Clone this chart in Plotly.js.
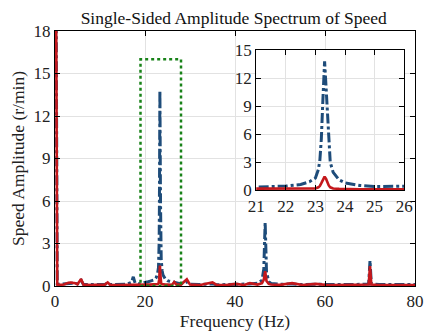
<!DOCTYPE html>
<html>
<head>
<meta charset="utf-8">
<script src="https://cdn.plot.ly/plotly-3.0.1.min.js"></script>
<style>html,body{margin:0;padding:0;background:#fff;}#chart{width:425px;height:333px;}</style>
</head>
<body>
<div id="chart"></div>
<script>
// Frequency axis (Hz)
const freq = [0, 0.5, 1, 2, 3, 3.5, 4, 4.5, 5, 5.8, 6.3, 7, 8, 9, 10, 11, 11.7, 12.3, 13, 14, 15, 16, 17, 17.4, 17.8, 18.5, 19, 20, 20.7, 21, 21.5, 22, 22.5, 22.8, 23, 23.1, 23.15, 23.2, 23.25, 23.31, 23.36, 23.4, 23.45, 23.5, 23.6, 23.8, 24, 24.5, 25, 25.5, 26, 26.5, 27, 28, 29.3, 30, 32, 35, 36, 38, 40.2, 42, 43.3, 45, 46, 46.4, 46.7, 47, 47.5, 48, 50, 52.7, 55, 58, 60, 62, 64, 66, 68, 69.7, 70, 70.3, 72, 75, 78, 80];
// Series 1 (blue, dash-dot)
const ampBlue = [40, 0.15, 0.12, 0.15, 0.2, 0.22, 0.2, 0.18, 0.15, 0.4, 0.12, 0.1, 0.12, 0.1, 0.1, 0.1, 0.2, 0.1, 0.1, 0.1, 0.12, 0.13, 0.25, 0.65, 0.2, 0.15, 0.18, 0.22, 0.3, 0.33, 0.38, 0.43, 0.6, 0.9, 1.3, 2.2, 3.2, 5.5, 9.5, 13.8, 11.0, 8.5, 5.8, 3.0, 1.9, 1.1, 0.78, 0.5, 0.38, 0.33, 0.3, 0.25, 0.2, 0.15, 0.3, 0.12, 0.1, 0.15, 0.08, 0.1, 0.12, 0.1, 0.15, 0.2, 0.4, 1.2, 4.5, 1.0, 0.3, 0.18, 0.12, 0.15, 0.1, 0.12, 0.1, 0.1, 0.1, 0.1, 0.1, 0.15, 1.8, 0.15, 0.1, 0.1, 0.1, 0.1];
// Series 2 (red, solid)
const ampRed = [40, 0.1, 0.08, 0.1, 0.22, 0.25, 0.22, 0.2, 0.12, 0.5, 0.1, 0.08, 0.06, 0.08, 0.07, 0.08, 0.25, 0.07, 0.06, 0.07, 0.08, 0.09, 0.1, 0.12, 0.1, 0.1, 0.1, 0.1, 0.1, 0.1, 0.1, 0.1, 0.11, 0.13, 0.18, 0.3, 0.45, 0.75, 1.1, 1.45, 1.2, 0.85, 0.5, 0.3, 0.18, 0.13, 0.11, 0.1, 0.1, 0.09, 0.09, 0.28, 0.1, 0.1, 0.47, 0.1, 0.06, 0.25, 0.06, 0.07, 0.15, 0.07, 0.2, 0.1, 0.2, 0.45, 1.05, 0.35, 0.15, 0.1, 0.08, 0.2, 0.07, 0.15, 0.08, 0.07, 0.07, 0.06, 0.07, 0.1, 1.4, 0.1, 0.07, 0.07, 0.06, 0.06];
// Zoom box
const boxX = [19, 28];
const boxY = [0, 16];
// Ticks
const mainXTicks = [0, 20, 40, 60, 80];
const mainYTicks = [0, 3, 6, 9, 12, 15, 18];
const insetXTicks = [21, 22, 23, 24, 25, 26];
const insetYTicks = [0, 3, 6, 9, 12, 15];
const mainXRange = [0, 80], mainYRange = [0, 18];
const insetXRange = [21, 26], insetYRange = [0, 15];

const blueC = 'rgb(30,76,122)';
const redC = 'rgb(196,24,28)';
const greenC = 'rgb(24,130,24)';
const font = 'Liberation Serif, Times New Roman, serif';

const traces = [
  {x: freq, y: ampBlue, type: 'scatter', mode: 'lines', line: {color: blueC, width: 3, dash: '10px,3px,3px,3px'}, xaxis: 'x', yaxis: 'y', hoverinfo: 'skip'},
  {x: freq, y: ampRed, type: 'scatter', mode: 'lines', line: {color: redC, width: 2.6}, xaxis: 'x', yaxis: 'y', hoverinfo: 'skip'},
  {x: freq, y: ampBlue, type: 'scatter', mode: 'lines', line: {color: blueC, width: 3, dash: '10px,3px,3px,3px'}, xaxis: 'x2', yaxis: 'y2', hoverinfo: 'skip'},
  {x: freq, y: ampRed, type: 'scatter', mode: 'lines', line: {color: redC, width: 2.6}, xaxis: 'x2', yaxis: 'y2', hoverinfo: 'skip'}
];

const axCommon = {
  showgrid: true, gridcolor: 'rgb(226,226,226)', gridwidth: 1,
  zeroline: false, showline: true, linecolor: 'black', linewidth: 1,
  mirror: 'ticks', ticks: 'inside', ticklen: 5, tickcolor: 'black',
  tickfont: {family: font, size: 17, color: '#222'}
};

const layout = {
  width: 425, height: 333,
  margin: {l: 55, r: 10, t: 31, b: 47},
  paper_bgcolor: 'white', plot_bgcolor: 'white',
  showlegend: false,
  title: {text: 'Single-Sided Amplitude Spectrum of Speed', font: {family: font, size: 17.5, color: '#111'}, x: 0.55, xanchor: 'center', y: 0.945, yanchor: 'middle'},
  xaxis: Object.assign({}, axCommon, {domain: [0, 1], range: mainXRange, tickvals: mainXTicks, anchor: 'y',
    title: {text: 'Frequency (Hz)', font: {family: font, size: 17.5, color: '#222'}, standoff: 4}}),
  yaxis: Object.assign({}, axCommon, {domain: [0, 1], range: mainYRange, tickvals: mainYTicks, anchor: 'x',
    title: {text: 'Speed Amplitude (r/min)', font: {family: font, size: 17.5, color: '#222'}, standoff: 4}}),
  xaxis2: Object.assign({}, axCommon, {domain: [0.559, 0.970], range: insetXRange, tickvals: insetXTicks, anchor: 'y2'}),
  yaxis2: Object.assign({}, axCommon, {domain: [0.376, 0.925], range: insetYRange, tickvals: insetYTicks, anchor: 'x2'}),
  shapes: [{type: 'rect', xref: 'x', yref: 'y', x0: boxX[0], x1: boxX[1], y0: boxY[0], y1: boxY[1],
    line: {color: greenC, width: 2.5, dash: 'dot'}, layer: 'above'}]
};

Plotly.newPlot('chart', traces, layout, {staticPlot: true, displayModeBar: false});
</script>
</body>
</html>
